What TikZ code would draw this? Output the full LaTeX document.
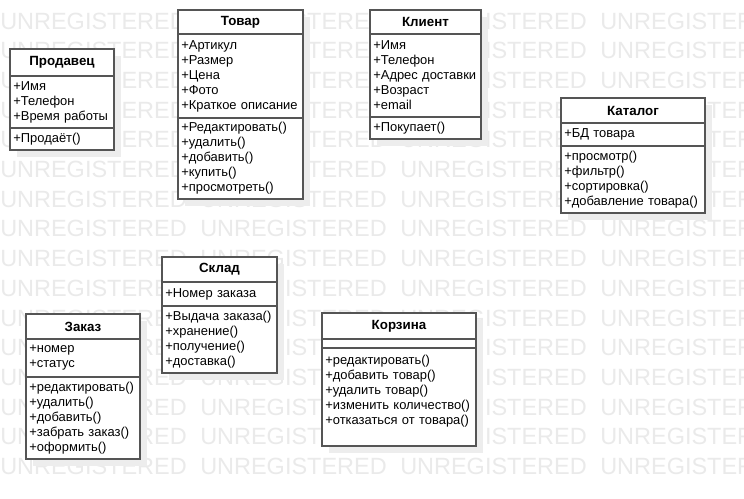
\documentclass[tikz,border=0pt]{standalone}
\usepackage{fontspec}
\setmainfont{Liberation Sans}
\usetikzlibrary{positioning, shadows}

\definecolor{wmgray}{HTML}{EAEAEA}
\definecolor{linegray}{HTML}{555555}

\tikzset{
	part/.style={draw=linegray, line width=1.1pt, fill=white, outer sep=0pt,
		inner xsep=2.5pt, inner ysep=2pt, align=left,
		font=\fontsize{9.7}{11.25}\selectfont,
		drop shadow={shadow xshift=5pt, shadow yshift=-5pt, fill=black!7, opacity=1}},
	title/.style={part, align=center, font=\fontsize{10}{11.25}\selectfont\bfseries},
	wmark/.style={inner sep=0pt, anchor=west, text=wmgray,
		font=\fontsize{17.6}{20}\selectfont}
}

\begin{document}
\begin{tikzpicture}[x=0.75pt, y=-0.75pt]
	\useasboundingbox (0,0) rectangle (744,499);
	\fill[white] (0,0) rectangle (744,499);

	% watermark
	\begin{scope}
		\clip (0,0) rectangle (744,499);
		\foreach \r in {0,...,15}
			\foreach \c in {0,...,3}
				\node[wmark] (wm-\r-\c) at (200*\c, 21+29.7*\r) {UNREGISTERED};
	\end{scope}

	% Продавец
	\node[title, text width=73pt, minimum height=20.25pt, anchor=north west] (prodT) at (10,49) {Продавец};
	\node[part, text width=73pt, minimum height=39pt, below=0pt of prodT] (prodA) {+Имя\\+Телефон\\+Время работы};
	\node[part, text width=73pt, minimum height=16.5pt, below=0pt of prodA] (prodM) {+Продаёт()};

	% Товар
	\node[title, text width=88.75pt, minimum height=18pt, anchor=north west] (tovT) at (178,10) {Товар};
	\node[part, text width=88.75pt, minimum height=63pt, below=0pt of tovT] (tovA) {+Артикул\\+Размер\\+Цена\\+Фото\\+Краткое описание};
	\node[part, text width=88.75pt, minimum height=60.75pt, below=0pt of tovA] (tovM) {+Редактировать()\\+удалить()\\+добавить()\\+купить()\\+просмотреть()};

	% Клиент
	\node[title, text width=78.25pt, minimum height=18pt, anchor=north west] (klT) at (370,10) {Клиент};
	\node[part, text width=78.25pt, minimum height=62.25pt, below=0pt of klT] (klA) {+Имя\\+Телефон\\+Адрес доставки\\+Возраст\\+email};
	\node[part, text width=78.25pt, minimum height=16.5pt, below=0pt of klA] (klM) {+Покупает()};

	% Каталог
	\node[title, text width=103pt, minimum height=18.75pt, anchor=north west] (katT) at (561,98) {Каталог};
	\node[part, text width=103pt, minimum height=17.25pt, below=0pt of katT] (katA) {+БД товара};
	\node[part, text width=103pt, minimum height=50.25pt, below=0pt of katA] (katM) {+просмотр()\\+фильтр()\\+сортировка()\\+добавление товара()};

	% Склад
	\node[title, text width=81.25pt, minimum height=18.75pt, anchor=north west] (sklT) at (162,257) {Склад};
	\node[part, text width=81.25pt, minimum height=18pt, below=0pt of sklT] (sklA) {+Номер заказа};
	\node[part, text width=81.25pt, minimum height=50.25pt, below=0pt of sklA] (sklM) {+Выдача заказа()\\+хранение()\\+получение()\\+доставка()};

	% Заказ
	\node[title, text width=80.5pt, minimum height=18.75pt, anchor=north west] (zakT) at (26,314) {Заказ};
	\node[part, text width=80.5pt, minimum height=28.5pt, below=0pt of zakT] (zakA) {+номер\\+статус};
	\node[part, text width=80.5pt, minimum height=61.5pt, below=0pt of zakA] (zakM) {+редактировать()\\+удалить()\\+добавить()\\+забрать заказ()\\+оформить()};

	% Корзина
	\node[title, text width=110.5pt, minimum height=19.5pt, anchor=north west] (korT) at (322,313) {Корзина};
	\node[part, text width=110.5pt, minimum height=6.75pt, below=0pt of korT] (korA) {};
	\node[part, text width=110.5pt, minimum height=73.5pt, below=0pt of korA] (korM) {+редактировать()\\+добавить товар()\\+удалить товар()\\+изменить количество()\\+отказаться от товара()\\~};
\end{tikzpicture}
\end{document}
